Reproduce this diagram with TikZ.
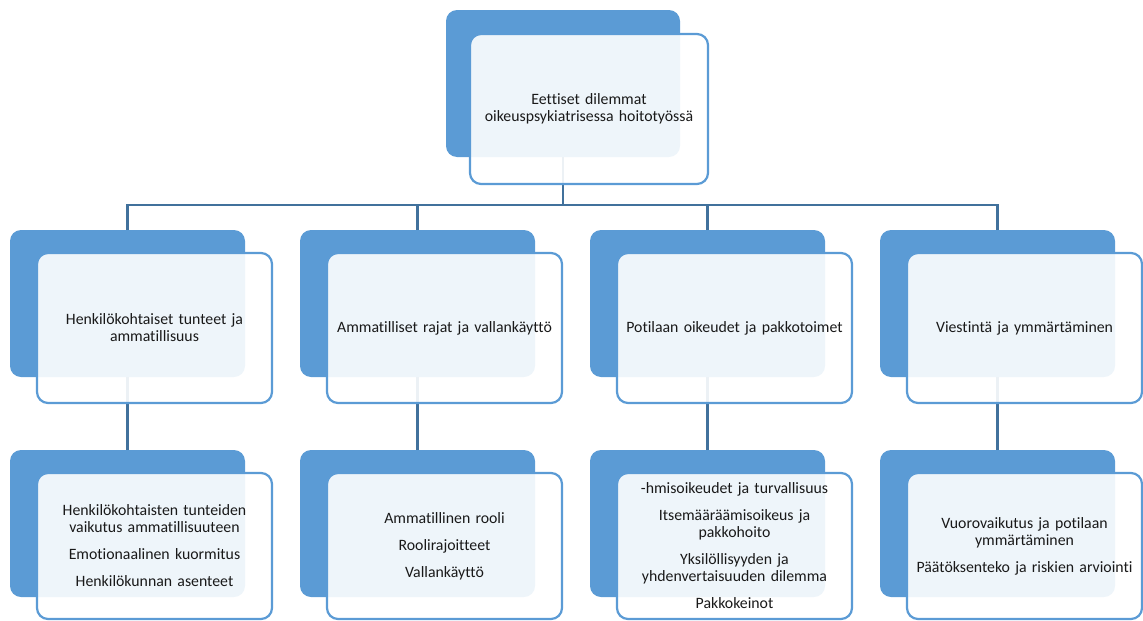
\documentclass[tikz,border=0pt]{standalone}
\usepackage{fontspec}
\setmainfont{Carlito}[Ligatures={NoCommon}]
\usepackage{tikz}
\usetikzlibrary{backgrounds}
\definecolor{boxblue}{RGB}{91,155,213}
\definecolor{linkblue}{RGB}{65,113,156}
\tikzset{
	backbox/.style={fill=boxblue, rounded corners=11pt, minimum width=235pt, minimum height=147pt, inner sep=0pt},
	textbox/.style={draw=boxblue, line width=2.2pt, fill=white, fill opacity=0.9, text opacity=1, rounded corners=11pt, minimum width=235pt, minimum height=150pt, inner sep=3pt, text width=226pt, align=center, text=black!90, font=\fontsize{15.8}{17}\selectfont},
	link/.style={draw=linkblue, line width=2.6pt}
}

\begin{document}
\begin{tikzpicture}[x=1pt, y=-1pt]
		%%%%% START %%%%%
		\useasboundingbox (0,0) rectangle (1143,621);
		
		\node[backbox, minimum width=234pt] (top) at (563, 83.5) {};
		\node[backbox] (b1) at (127.5, 303.5) {};
		\node[backbox] (b2) at (417.5, 303.5) {};
		\node[backbox] (b3) at (707.5, 303.5) {};
		\node[backbox] (b4) at (997.5, 303.5) {};
		\node[backbox] (c1) at (127.5, 523.5) {};
		\node[backbox] (c2) at (417.5, 523.5) {};
		\node[backbox] (c3) at (707.5, 523.5) {};
		\node[backbox] (c4) at (997.5, 523.5) {};
		
		\begin{scope}[on background layer]
			\coordinate (bus) at (563, 205);
			\draw[link] (top.south) -- (bus);
			\draw[link] (bus) -| (b1.north);
			\draw[link] (bus) -| (b2.north);
			\draw[link] (bus) -| (b3.north);
			\draw[link] (bus) -| (b4.north);
			\draw[link] (b1.south) -- (c1.north);
			\draw[link] (b2.south) -- (c2.north);
			\draw[link] (b3.south) -- (c3.north);
			\draw[link] (b4.south) -- (c4.north);
		\end{scope}
		
		\node[textbox, minimum width=238pt] (toptext) at (589, 109) {Eettiset dilemmat\\oikeuspsykiatrisessa hoitotyössä};
		
		\node[textbox] (t1) at (154.5, 328) {Henkilökohtaiset tunteet ja\\ammatillisuus};
		\node[textbox] (t2) at (444.5, 328) {Ammatilliset rajat ja vallankäyttö};
		\node[textbox] (t3) at (734.5, 328) {Potilaan oikeudet ja pakkotoimet};
		\node[textbox] (t4) at (1024.5, 328) {Viestintä ja ymmärtäminen};
		
		\node[textbox, minimum height=146pt] (u1) at (154.5, 546) {Henkilökohtaisten tunteiden\\vaikutus ammatillisuuteen\\[10pt]Emotionaalinen kuormitus\\[10pt]Henkilökunnan asenteet};
		\node[textbox, minimum height=146pt] (u2) at (444.5, 546) {Ammatillinen rooli\\[10pt]Roolirajoitteet\\[10pt]Vallankäyttö};
		\node[textbox, minimum height=146pt] (u3) at (734.5, 546) {-hmisoikeudet ja turvallisuus\\[10pt]Itsemääräämisoikeus ja\\pakkohoito\\[10pt]Yksilöllisyyden ja\\yhdenvertaisuuden dilemma\\[10pt]Pakkokeinot};
		\node[textbox, minimum height=146pt] (u4) at (1024.5, 546) {Vuorovaikutus ja potilaan\\ymmärtäminen\\[10pt]Päätöksenteko ja riskien arviointi};
		%%%%% END %%%%%
\end{tikzpicture}
\end{document}
